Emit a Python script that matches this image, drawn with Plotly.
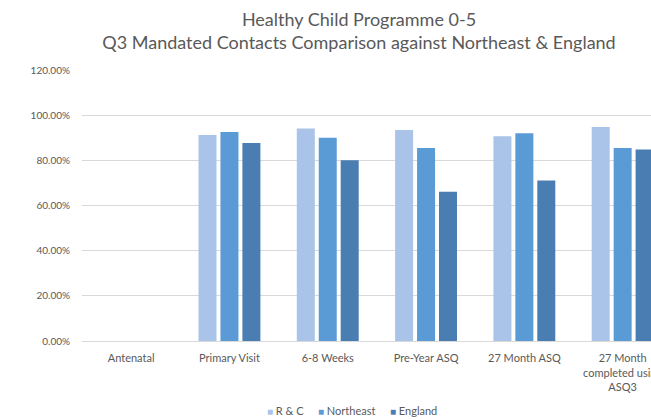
import plotly.graph_objects as go

# Mandated contact completion rates, Q3 (fractions of 1)
categories = ["Antenatal", "Primary Visit", "6-8 Weeks", "Pre-Year ASQ",
              "27 Month ASQ", "27 Month<br>completed using<br>ASQ3"]
rc_values = [None, 0.912, 0.941, 0.934, 0.907, 0.948]
northeast_values = [None, 0.925, 0.900, 0.855, 0.920, 0.855]
england_values = [None, 0.877, 0.800, 0.661, 0.711, 0.848]

series_names = ["R & C", "Northeast", "England"]
series_colors = ["#a9c4e8", "#5b9bd5", "#4a7db1"]
y_ticks = [0, 0.2, 0.4, 0.6, 0.8, 1.0, 1.2]

FONT = "Lato, 'Open Sans', sans-serif"
GREY = "#595959"

fig = go.Figure()
for name, vals, col in zip(series_names,
                           [rc_values, northeast_values, england_values],
                           series_colors):
    fig.add_trace(go.Bar(x=categories, y=vals, name=name, showlegend=False,
                         marker=dict(color=col, line=dict(width=0))))

W, H = 651, 420
left, top, bottom_px = 82, 70, 341.5
plot_w, plot_h = W - left, bottom_px - top

# Compact key under the plot: small coloured square followed by the series name
key_x_px = [269, 320, 392]
for name, col, kx in zip(series_names, series_colors, key_x_px):
    fig.add_annotation(
        x=(kx - 4 - left) / plot_w, xref="paper", xanchor="left",
        y=-(411 - bottom_px) / plot_h, yref="paper", yanchor="middle",
        text=f'<span style="color:{col};font-size:10px">■</span> {name}',
        showarrow=False, font=dict(family=FONT, size=11, color=GREY),
    )

fig.update_layout(
    width=W, height=H,
    margin=dict(l=left, r=0, t=top, b=H - bottom_px, autoexpand=False),
    paper_bgcolor="white", plot_bgcolor="white",
    barmode="group", bargap=0.33, bargroupgap=0.18,
    font=dict(family=FONT, color=GREY),
    title=dict(
        text="Healthy Child Programme 0-5<br>Q3 Mandated Contacts Comparison against Northeast & England",
        x=(359 - left) / plot_w, xref="paper", xanchor="center",
        y=1 - 26 / H, yref="container", yanchor="top",
        font=dict(family=FONT, size=18, color=GREY),
    ),
    showlegend=False,
    xaxis=dict(
        type="category",
        range=[-0.5, -0.5 + plot_w / 98.3],
        showgrid=False, showline=True, linecolor="#d9d9d9", linewidth=1,
        ticks="", tickfont=dict(family=FONT, size=11, color=GREY),
        ticklabelstandoff=7, fixedrange=True,
    ),
    yaxis=dict(
        range=[0, 1.2], tickvals=y_ticks, tickformat=".2%",
        showgrid=True, gridcolor="#d9d9d9", gridwidth=1,
        zeroline=False, showline=False,
        tickfont=dict(family=FONT, size=10, color=GREY),
        ticklabelstandoff=11, fixedrange=True,
    ),
)

fig.write_html("out.html")
